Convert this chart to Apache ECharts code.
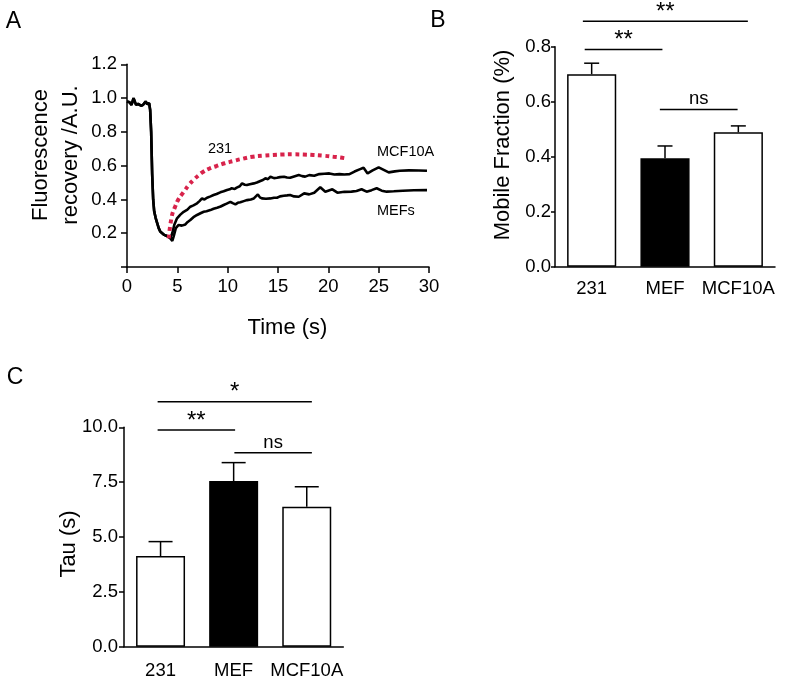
<!DOCTYPE html>
<html><head><meta charset="utf-8">
<script src="https://cdn.jsdelivr.net/npm/echarts@6/dist/echarts.min.js"></script>
<style>html,body{margin:0;padding:0;background:#fff}#c{width:788px;height:681px}</style>
</head><body><div id="c"></div>
<script>
// ---------- Panel A: FRAP recovery curves ----------
const preTime = [0, 0.25, 0.45, 0.65, 0.9, 1.1, 1.25, 1.4, 1.6, 1.85, 2.0, 2.2, 2.3, 2.4, 2.5, 2.6, 2.7, 2.85, 3.0, 3.15, 3.3, 3.5, 3.7, 3.9, 4.1, 4.3];
const preVal  = [0.98, 0.975, 0.96, 1.0, 0.96, 0.965, 0.97, 0.955, 0.96, 0.98, 0.965, 0.97, 0.93, 0.8, 0.55, 0.4, 0.33, 0.29, 0.26, 0.23, 0.21, 0.2, 0.19, 0.185, 0.18, 0.17];
const mcfTime = [4.5, 4.7, 4.97, 5.3, 5.63, 6.0, 6.29, 6.6, 6.96, 7.2, 7.45, 7.7, 7.95, 8.3, 8.6, 8.9, 9.27, 9.6, 9.94, 10.2, 10.4, 10.7, 10.9, 11.2, 11.43, 11.7, 11.9, 12.2, 12.6, 12.9, 13.25, 13.5, 13.75, 14.0, 14.25, 14.6, 14.9, 15.2, 15.6, 15.9, 16.2, 16.6, 17.06, 17.4, 17.7, 18.1, 18.6, 19.1, 19.6, 20.1, 20.6, 21.1, 21.6, 22.1, 22.6, 23.1, 23.5, 23.9, 24.4, 25.0, 25.5, 26.0, 26.6, 27.1, 28.0, 29.0, 29.8];
const mcfVal  = [0.2, 0.25, 0.288, 0.31, 0.327, 0.34, 0.357, 0.365, 0.377, 0.39, 0.406, 0.4, 0.41, 0.418, 0.426, 0.432, 0.442, 0.448, 0.456, 0.46, 0.466, 0.462, 0.47, 0.478, 0.495, 0.487, 0.485, 0.49, 0.495, 0.5, 0.509, 0.515, 0.525, 0.52, 0.534, 0.526, 0.528, 0.532, 0.534, 0.53, 0.528, 0.536, 0.544, 0.538, 0.535, 0.544, 0.54, 0.55, 0.552, 0.554, 0.548, 0.55, 0.548, 0.55, 0.565, 0.578, 0.588, 0.554, 0.572, 0.59, 0.575, 0.56, 0.566, 0.57, 0.572, 0.571, 0.57];
const mefTime = [4.5, 4.63, 4.85, 5.13, 5.45, 5.8, 6.0, 6.29, 6.6, 6.96, 7.3, 7.62, 7.9, 8.28, 8.6, 8.95, 9.3, 9.6, 9.9, 10.27, 10.5, 10.77, 11.0, 11.26, 11.6, 11.93, 12.3, 12.6, 13.0, 13.2, 13.4, 13.8, 14.25, 14.6, 14.9, 15.2, 15.57, 15.9, 16.2, 16.6, 17.06, 17.6, 18.1, 18.6, 19.2, 19.7, 20.4, 20.9, 21.6, 22.3, 22.8, 23.3, 23.8, 24.3, 24.8, 25.3, 25.8, 26.5, 27.4, 28.5, 29.8];
const mefVal  = [0.155, 0.18, 0.23, 0.249, 0.245, 0.252, 0.265, 0.278, 0.295, 0.308, 0.318, 0.327, 0.33, 0.337, 0.345, 0.351, 0.358, 0.367, 0.375, 0.386, 0.378, 0.371, 0.38, 0.383, 0.39, 0.396, 0.4, 0.406, 0.43, 0.412, 0.406, 0.404, 0.406, 0.41, 0.41, 0.418, 0.422, 0.424, 0.426, 0.418, 0.416, 0.436, 0.43, 0.44, 0.472, 0.446, 0.46, 0.44, 0.445, 0.446, 0.45, 0.46, 0.446, 0.455, 0.466, 0.452, 0.446, 0.448, 0.451, 0.454, 0.455];
const fitTime = [4.15, 4.45, 4.8, 5.1, 5.45, 5.77, 6.2, 6.6, 7.1, 7.58, 8.2, 8.9, 9.7, 10.55, 11.5, 12.5, 13.5, 14.5, 15.5, 16.5, 17.5, 18.5, 19.5, 20.5, 21.2, 21.8];
const fitVal  = [0.17, 0.3, 0.36, 0.4, 0.43, 0.456, 0.49, 0.515, 0.542, 0.564, 0.583, 0.598, 0.614, 0.627, 0.641, 0.653, 0.659, 0.663, 0.666, 0.667, 0.666, 0.663, 0.659, 0.653, 0.648, 0.642];

// ---------- Panels B and C: bar charts ----------
const cellLines  = ['231', 'MEF', 'MCF10A'];
const mobileMean = [0.70, 0.394, 0.489];
const mobileErr  = [0.04, 0.045, 0.023];
const mobileSigFrom  = [-0.095, -0.12, 0.93];
const mobileSigTo    = [0.965, 2.13, 1.99];
const mobileSigLevel = [0.79, 0.893, 0.572];
const mobileSigText  = ['**', '**', 'ns'];
const tauMean = [4.13, 7.55, 6.38];
const tauErr  = [0.66, 0.84, 0.91];
const tauSigFrom  = [-0.04, -0.04, 1.01];
const tauSigTo    = [1.02, 2.07, 2.07];
const tauSigLevel = [9.88, 11.17, 8.84];
const tauSigText  = ['**', '*', 'ns'];

const FONT = '"Liberation Sans", Arial, sans-serif';
const zip = (a, b) => a.map((v, i) => [v, b[i]]);
const mcfData = zip(preTime, preVal).concat(zip(mcfTime, mcfVal));
const mefData = zip(preTime, preVal).concat(zip(mefTime, mefVal));
const fitData = zip(fitTime, fitVal);
const fills = ['#ffffff', '#000000', '#ffffff'];

const axisLine = {show: true, onZero: false, lineStyle: {color: '#000', width: 1.5}};
const lbl = (extra) => Object.assign({color: '#000', fontSize: 18.5, fontFamily: FONT}, extra);

function errSeries(xi, yi, mean, err, capHalf) {
  return {
    type: 'custom', xAxisIndex: xi, yAxisIndex: yi, z: 5,
    data: mean.map((m, i) => [i, m, err[i]]),
    encode: {x: 0, y: 1},
    renderItem: function (params, api) {
      const i = api.value(0), m = api.value(1), e = api.value(2);
      const p0 = api.coord([i, m]);
      const p1 = api.coord([i, m + e]);
      const st = {stroke: '#000', lineWidth: 1.5};
      return {type: 'group', children: [
        {type: 'line', shape: {x1: p0[0], y1: p0[1], x2: p1[0], y2: p1[1]}, style: st},
        {type: 'line', shape: {x1: p1[0] - capHalf, y1: p1[1], x2: p1[0] + capHalf, y2: p1[1]}, style: st}
      ]};
    }
  };
}
function sigSeries(xi, yi, from, to, level, texts) {
  return {
    type: 'custom', xAxisIndex: xi, yAxisIndex: yi, z: 5, clip: false,
    data: from.map((f, i) => [f, to[i], level[i]]),
    encode: {x: [0, 1], y: 2},
    renderItem: function (params, api) {
      const a = api.coord([api.value(0), api.value(2)]);
      const b = api.coord([api.value(1), api.value(2)]);
      const t = texts[params.dataIndex];
      const star = t !== 'ns';
      return {type: 'group', children: [
        {type: 'line', shape: {x1: a[0], y1: a[1], x2: b[0], y2: a[1]}, style: {stroke: '#000', lineWidth: 1.5}},
        {type: 'text', x: (a[0] + b[0]) / 2, y: a[1] - (star ? 9 : 10),
         style: {text: t, fill: '#000', font: (star ? '24px ' : '18.5px ') + FONT, align: 'center', verticalAlign: 'middle'}}
      ]};
    }
  };
}
function barSeries(xi, yi, mean) {
  return {
    type: 'bar', xAxisIndex: xi, yAxisIndex: yi, barWidth: '67%', z: 3,
    data: mean.map((m, i) => ({value: m, itemStyle: {color: fills[i]}})),
    itemStyle: {borderColor: '#000', borderWidth: 1.5}
  };
}
function txt(x, y, text, size, align, rot) {
  const el = {type: 'text', x: x, y: y,
    style: {text: text, fill: '#000', font: size + 'px ' + FONT, align: align || 'center', verticalAlign: 'middle', lineHeight: 30}};
  if (rot) el.rotation = Math.PI / 2;
  return el;
}

const chart = echarts.init(document.getElementById('c'));
chart.setOption({
  animation: false,
  backgroundColor: '#fff',
  grid: [
    {left: 127, top: 64.3, width: 302, height: 202.7},
    {left: 555, top: 46.7, width: 220, height: 220},
    {left: 124, top: 427.3, width: 219.3, height: 219.4}
  ],
  xAxis: [
    {type: 'value', gridIndex: 0, min: 0, max: 30, interval: 5, splitLine: {show: false},
     axisLine: axisLine, axisTick: {show: true, length: 6, lineStyle: {color: '#000', width: 1.5}},
     axisLabel: lbl({margin: 10})},
    {type: 'category', gridIndex: 1, data: cellLines, axisLine: axisLine, axisTick: {show: false},
     axisLabel: lbl({margin: 13, interval: 0})},
    {type: 'value', gridIndex: 1, min: -0.5, max: 2.5, show: false},
    {type: 'category', gridIndex: 2, data: cellLines, axisLine: axisLine, axisTick: {show: false},
     axisLabel: lbl({margin: 15, interval: 0})},
    {type: 'value', gridIndex: 2, min: -0.5, max: 2.5, show: false}
  ],
  yAxis: [
    {type: 'value', gridIndex: 0, min: 0, max: 1.2, interval: 0.2, splitLine: {show: false},
     axisLine: axisLine, axisTick: {show: true, length: 6, lineStyle: {color: '#000', width: 1.5}},
     axisLabel: lbl({margin: 10, formatter: v => v === 0 ? '' : v.toFixed(1)})},
    {type: 'value', gridIndex: 1, min: 0, max: 0.8, interval: 0.2, splitLine: {show: false},
     axisLine: axisLine, axisTick: {show: true, length: 4, lineStyle: {color: '#000', width: 1.5}},
     axisLabel: lbl({margin: 4, formatter: v => v.toFixed(1)})},
    {type: 'value', gridIndex: 2, min: 0, max: 10, interval: 2.5, splitLine: {show: false},
     axisLine: axisLine, axisTick: {show: true, length: 5, lineStyle: {color: '#000', width: 1.5}},
     axisLabel: lbl({margin: 6, formatter: v => v.toFixed(1)})}
  ],
  series: [
    {type: 'line', name: 'MCF10A', xAxisIndex: 0, yAxisIndex: 0, data: mcfData, showSymbol: false,
     lineStyle: {color: '#000', width: 2.6}, z: 2},
    {type: 'line', name: 'MEFs', xAxisIndex: 0, yAxisIndex: 0, data: mefData, showSymbol: false,
     lineStyle: {color: '#000', width: 2.6}, z: 2},
    {type: 'line', name: '231', xAxisIndex: 0, yAxisIndex: 0, data: fitData, showSymbol: false, smooth: true,
     lineStyle: {color: '#d8234b', width: 4, type: [4, 3.5], cap: 'butt'}, z: 3},
    barSeries(1, 1, mobileMean),
    errSeries(1, 1, mobileMean, mobileErr, 7.5),
    sigSeries(2, 1, mobileSigFrom, mobileSigTo, mobileSigLevel, mobileSigText),
    barSeries(3, 2, tauMean),
    errSeries(3, 2, tauMean, tauErr, 12),
    sigSeries(4, 2, tauSigFrom, tauSigTo, tauSigLevel, tauSigText)
  ],
  graphic: [
    txt(13.5, 21.5, 'A', 23),
    txt(438, 20.5, 'B', 23),
    txt(15, 378, 'C', 23),
    txt(56, 155, 'Fluorescence\nrecovery /A.U.', 22, 'center', true),
    txt(287.5, 328, 'Time (s)', 22),
    txt(503, 145, 'Mobile Fraction (%)', 22, 'center', true),
    txt(69, 544, 'Tau (s)', 22, 'center', true),
    txt(220, 149, '231', 14.5),
    txt(377, 152, 'MCF10A', 14.5, 'left'),
    txt(377, 211, 'MEFs', 14.5, 'left')
  ]
});
</script>
</body></html>
